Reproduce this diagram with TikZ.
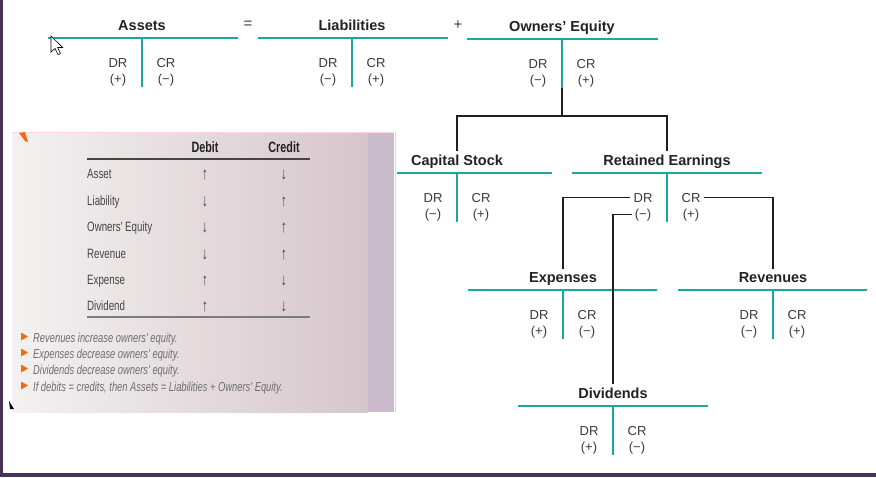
\documentclass[tikz,border=0pt]{standalone}
\usepackage{fontspec}
\setmainfont{Liberation Sans}
\newfontfamily\cond[FakeStretch=0.72]{Liberation Sans}
\definecolor{tealc}{HTML}{1AA89C}
\definecolor{titlec}{HTML}{222222}
\definecolor{labc}{HTML}{3A3A3A}
\definecolor{framec}{HTML}{4A3358}
\definecolor{panelL}{HTML}{F3F1F1}
\definecolor{panelR}{HTML}{D6C6CB}
\definecolor{panelE}{HTML}{CABBCC}
\definecolor{bulc}{HTML}{F06A12}
\definecolor{bultext}{HTML}{6E6E6E}
\definecolor{rowc}{HTML}{444444}
\begin{document}
\begin{tikzpicture}[x=1pt,y=-1pt,
  tline/.style={draw=tealc,line width=2pt},
  conn/.style={draw=black!88,line width=1.4pt},
  ttitle/.style={font=\fontsize{14.5}{17}\selectfont\bfseries,text=titlec,anchor=base,inner sep=3pt},
  tlab/.style={font=\fontsize{13}{15}\selectfont,text=labc,anchor=base,inner sep=3pt},
  rowlab/.style={font=\cond\fontsize{13.5}{15}\selectfont,text=rowc,anchor=base west,inner sep=0pt},
  arr/.style={font=\cond\fontsize{17}{19}\selectfont,text=rowc,anchor=base,inner sep=0pt},
  hdr/.style={font=\cond\bfseries\fontsize{15}{17}\selectfont,text=titlec,anchor=base,inner sep=0pt},
  bult/.style={font=\cond\itshape\fontsize{13}{15}\selectfont,text=bultext,anchor=base west,inner sep=0pt},
  op/.style={font=\fontsize{15}{17}\selectfont,text=labc,inner sep=1pt}
]
\useasboundingbox (0,0) rectangle (876,477);
\fill[white] (0,0) rectangle (876,477);

% #1 name, #2 stem x, #3 line y, #4 left, #5 right, #6 title, #7 dr sign, #8 cr sign
\newcommand\TAcct[8]{%
  \draw[tline] (#4,#3) -- (#5,#3);
  \draw[tline] (#2,#3) -- (#2,#3+49) coordinate (#1-bot);
  \node[ttitle] (#1-t) at (#2,#3-8) {#6};
  \node[tlab] (#1-dr) at (#2-24,#3+29) {DR};
  \node[tlab] (#1-drs) at (#2-24,#3+45) {(#7)};
  \node[tlab] (#1-cr) at (#2+24,#3+29) {CR};
  \node[tlab] (#1-crs) at (#2+24,#3+45) {(#8)};
}

% ---- left panel ----
\shade[left color=panelL,right color=panelR] (12,132) rectangle (368,412);
\fill[panelE] (368,132) rectangle (394,412);
\draw[black!15,line width=1pt] (395,132) -- (395,412);
\draw[pink!60,line width=0.6pt] (12,132.5) -- (394,132.5);
\fill[bulc] (19,133) -- (25,132) -- (28,142) -- (25,141) -- cycle;
\fill[black] (9,401) -- (10,409) -- (14,409) -- cycle;

\node[hdr] (hdeb) at (205,152) {Debit};
\node[hdr] (hcre) at (284,152) {Credit};
\draw[rowc,line width=1.5pt] (87,159) -- (310,159);
\draw[rowc!70,line width=1.5pt] (87,317) -- (310,317);

\node[rowlab] (r1) at (87,178) {Asset};
\node[rowlab] (r2) at (87,205) {Liability};
\node[rowlab] (r3) at (87,231) {Owners' Equity};
\node[rowlab] (r4) at (87,258) {Revenue};
\node[rowlab] (r5) at (87,284) {Expense};
\node[rowlab] (r6) at (87,310) {Dividend};

\node[arr] (a1d) at (205,179) {↑}; \node[arr] (a1c) at (284,179) {↓};
\node[arr] (a2d) at (205,206) {↓}; \node[arr] (a2c) at (284,206) {↑};
\node[arr] (a3d) at (205,232) {↓}; \node[arr] (a3c) at (284,232) {↑};
\node[arr] (a4d) at (205,259) {↓}; \node[arr] (a4c) at (284,259) {↑};
\node[arr] (a5d) at (205,285) {↑}; \node[arr] (a5c) at (284,285) {↓};
\node[arr] (a6d) at (205,311) {↑}; \node[arr] (a6c) at (284,311) {↓};

\foreach \yy in {337,353,369,386} {\fill[bulc] (21,\yy-4.5) -- (21,\yy+3.5) -- (28,\yy-0.5) -- cycle;}
\node[bult] (b1) at (33,342) {Revenues increase owners' equity.};
\node[bult] (b2) at (33,358) {Expenses decrease owners' equity.};
\node[bult] (b3) at (33,374) {Dividends decrease owners' equity.};
\node[bult] (b4) at (33,391) {If debits = credits, then Assets = Liabilities + Owners' Equity.};

% ---- T accounts ----
\TAcct{as}{142}{38}{48}{238}{Assets}{+}{−}
\TAcct{li}{352}{38}{258}{448}{Liabilities}{−}{+}
\TAcct{oe}{562}{39}{467}{658}{Owners' Equity}{−}{+}
\TAcct{cs}{457}{173}{397}{552}{Capital Stock}{−}{+}
\TAcct{re}{667}{173}{572}{762}{Retained Earnings}{−}{+}
\TAcct{ex}{563}{290}{468}{657}{Expenses}{+}{−}
\TAcct{rv}{773}{290}{678}{867}{Revenues}{−}{+}
\TAcct{dv}{613}{406}{518}{708}{Dividends}{+}{−}

\node[op] (eq) at (248,25) {=};
\node[op] (pl) at (458,25) {+};

% ---- connectors ----
\coordinate (oej) at (562,116);
\draw[conn] (oe-bot) -- (oej);
\draw[conn] (cs-t.north) |- (oej) -| (re-t.north);
\draw[conn] (re-dr.west) -| (ex-t.north);
\draw[conn] (re-drs.west) -| (dv-t.north);
\draw[conn] (re-cr.east) -| (rv-t.north);

% ---- cursor ----
\draw[black,fill=white,line width=0.6pt,shift={(51,36)},scale=1.35]
  (0,0) -- (0,12) -- (3,9.2) -- (5.2,13.8) -- (7,13) -- (4.9,8.5) -- (8.6,8.5) -- cycle;

% ---- frame ----
\fill[framec] (0,0) rectangle (3,477);
\fill[framec] (0,473) rectangle (876,477);
\end{tikzpicture}
\end{document}
